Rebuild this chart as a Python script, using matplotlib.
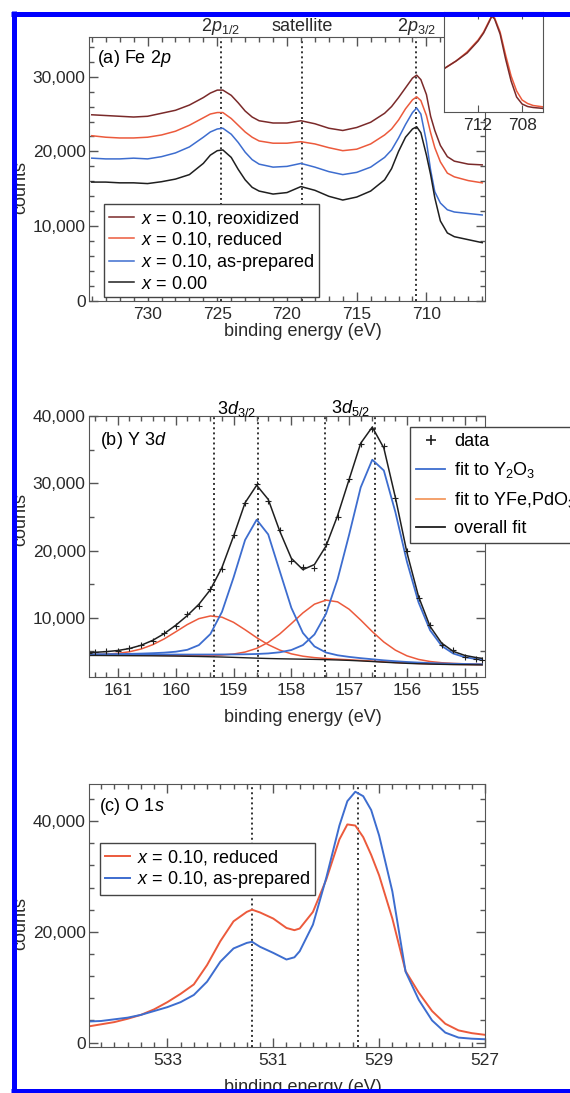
import matplotlib
matplotlib.use('Agg')
import matplotlib.pyplot as plt
import numpy as np
from matplotlib.ticker import MultipleLocator, FixedLocator, FuncFormatter
from matplotlib.lines import Line2D

plt.rcParams['font.family'] = ['Liberation Sans', 'DejaVu Sans']
plt.rcParams['mathtext.fontset'] = 'custom'
plt.rcParams['mathtext.rm'] = 'Liberation Sans'
plt.rcParams['mathtext.it'] = 'Liberation Sans:italic'
plt.rcParams['mathtext.bf'] = 'Liberation Sans:bold'

W, H = 570, 1093

# ---------------- (a) Fe 2p ----------------
fe_ev = [734, 733, 732, 731, 730, 729, 728, 727, 726, 725.5, 725, 724.6, 724, 723.5,
         723, 722.5, 722, 721, 720, 719, 718, 717, 716, 715, 714, 713, 712.5, 712,
         711.5, 711, 710.7, 710.4, 710, 709.7, 709.4, 709, 708.5, 708, 707, 706]
fe_x000 = [15900, 15900, 15800, 15800, 15700, 15950, 16300, 16900, 18400,
           19500, 20100, 20200, 19200, 17600, 16200, 15200, 14700,
           14300, 14500, 15300, 14800, 14000, 13500, 13900, 14700, 16200,
           17700, 20000, 21900, 23000, 23300, 22500, 19500,
           16900, 13800, 10700, 9100, 8600, 8200, 7800]
fe_asprep = [19100, 19000, 19000, 19100, 19000, 19300, 19800, 20600, 21900,
             22600, 23000, 23100, 22300, 21200, 19900, 18900, 18300,
             17900, 18000, 18400, 17900, 17300, 16900, 17200, 17900, 19200,
             20200, 21800, 23600, 25200, 25800, 25000, 21300,
             17500, 14600, 13100, 12200, 11900, 11700, 11500]
fe_reduced = [22100, 21900, 21800, 21800, 21900, 22200, 22700, 23500, 24500,
              25000, 25200, 25200, 24400, 23500, 22600, 21900, 21400,
              21100, 21100, 21300, 21000, 20500, 20100, 20300, 21000, 22200,
              23000, 24200, 25700, 26900, 27300, 26800, 24800,
              22500, 20500, 18600, 17100, 16600, 16100, 15800]
fe_reox = [24900, 24800, 24700, 24600, 24700, 25100, 25500, 26200, 27200,
           27800, 28200, 28200, 27500, 26500, 25400, 24600, 24100,
           23800, 23800, 24100, 23700, 23100, 22800, 23200, 23900, 25100,
           26000, 27200, 28500, 29800, 30200, 29600, 27600,
           24700, 22800, 20800, 19300, 18700, 18300, 18200]
fe_marks = [724.75, 718.9, 710.75]
fe_mark_labels = [r'2$p_{1/2}$', 'satellite', r'2$p_{3/2}$']

inset_ev = [715, 714, 713, 712, 711.5, 711, 710.75, 710.5, 710, 709.5, 709, 708.5,
            708, 707.5, 707, 706]
inset_reox = [0.44, 0.51, 0.59, 0.71, 0.79, 0.90, 0.96, 0.93, 0.78, 0.53, 0.31, 0.15,
              0.08, 0.055, 0.045, 0.035]
inset_reduced = [0.44, 0.51, 0.60, 0.72, 0.80, 0.91, 0.96, 0.94, 0.80, 0.57, 0.36, 0.21,
                 0.12, 0.085, 0.065, 0.05]

# ---------------- (b) Y 3d ----------------
yb_ev = [161.5, 161.4, 161.2, 161.0, 160.8, 160.6, 160.4, 160.2, 160.0, 159.8,
         159.6, 159.4, 159.2, 159.0, 158.8, 158.6, 158.4, 158.2, 158.0, 157.8,
         157.6, 157.4, 157.2, 157.0, 156.8, 156.6, 156.4, 156.2, 156.0, 155.8,
         155.6, 155.4, 155.2, 155.0, 154.8, 154.7]
yb_background = [4400, 4400, 4390, 4380, 4370, 4360, 4350, 4330, 4310, 4280,
                 4250, 4210, 4170, 4120, 4060, 4000, 3950, 3910, 3880, 3850,
                 3820, 3780, 3730, 3670, 3590, 3500, 3400, 3310, 3230, 3170,
                 3120, 3080, 3050, 3030, 3010, 3000]
yb_y2o3_32 = [160, 170, 196, 230, 270, 320, 390, 490, 650, 960,
              1690, 3380, 6710, 11860, 17510, 20580, 18450, 13020, 7610, 3900,
              1930, 1060, 700, 520, 410, 340, 280, 237, 203, 175,
              153, 134, 119, 106, 95, 90]
yb_y2o3_52 = [113, 117, 127, 138, 152, 167, 184, 205, 229, 256,
              290, 331, 381, 442, 519, 620, 755, 964, 1332, 2094,
              3702, 6822, 12000, 18700, 25800, 30000, 28500, 22400, 15100, 9140,
              5030, 2750, 1640, 1118, 847, 755]
yb_yfe_32 = [117, 137, 206, 338, 582, 998, 1642, 2530, 3603, 4713,
             5624, 6063, 5923, 5210, 4166, 3050, 2056, 1289, 764, 442,
             261, 166, 117, 90, 74, 64, 56, 49, 44, 39,
             35, 32, 29, 26, 24, 23]
yb_yfe_52 = [42, 44, 49, 54, 60, 68, 76, 87, 100, 119,
             149, 200, 300, 493, 849, 1456, 2395, 3691, 5257, 6876,
             8206, 8847, 8642, 7601, 6079, 4450, 3000, 1881, 1115, 645,
             381, 242, 171, 132, 109, 100]
yb_data = [4700, 4900, 5100, 5000, 5500, 6000, 6500, 7800, 8800, 10500,
           11800, 14300, 17300, 22300, 27000, 29900, 27400, 23100, 18500, 17600,
           17400, 20900, 25000, 30700, 35800, 38000, 35500, 27800, 20000, 13000,
           8900, 6000, 5200, 4200, 3900, 3800]
yb_marks = [159.33, 158.58, 157.41, 156.55]

# ---------------- (c) O 1s ----------------
o_ev = [534.5, 534.25, 534.0, 533.75, 533.5, 533.25, 533.0, 532.75, 532.5, 532.25,
        532.0, 531.75, 531.5, 531.4, 531.25, 531.0, 530.75, 530.6, 530.5, 530.25,
        530.0, 529.75, 529.6, 529.45, 529.3, 529.15, 529.0, 528.75, 528.5, 528.25,
        528.0, 527.75, 527.5, 527.25, 527.0]
o_reduced = [2900, 3300, 3700, 4300, 5000, 6000, 7300, 8800, 10500, 14000,
             18300, 21900, 23600, 24000, 23500, 22400, 20700, 20300, 20600, 23600,
             29400, 36700, 39400, 39200, 37100, 33900, 30200, 22400, 12900, 9000,
             5700, 3400, 2200, 1700, 1400]
o_asprep = [3800, 3900, 4200, 4500, 5000, 5700, 6400, 7300, 8600, 11000,
            14600, 17000, 18000, 18200, 17300, 16200, 15000, 15400, 16500, 21300,
            29700, 39200, 43600, 45300, 44500, 42000, 37400, 27300, 12800, 7700,
            4000, 1800, 900, 700, 600]
o_ticks = [533, 531, 529, 527]
o_marks = [531.4, 529.4]

BLACK = '#1f1f1f'
BLUE = '#3d6dcf'
RED = '#ec5a3c'
DARKRED = '#7a2a2a'
ORANGE = '#f39a60'
GRID = '#333333'

fig = plt.figure(figsize=(W / 100, H / 100), dpi=100)


def px_axes(left, top, right, bottom):
    return fig.add_axes([left / W, 1 - bottom / H, (right - left) / W, (bottom - top) / H])


def style(ax, xmaj, xmin, ymaj, ymin):
    if isinstance(xmaj, list):
        ax.xaxis.set_major_locator(FixedLocator(xmaj))
    else:
        ax.xaxis.set_major_locator(MultipleLocator(xmaj))
    ax.xaxis.set_minor_locator(MultipleLocator(xmin))
    ax.yaxis.set_major_locator(MultipleLocator(ymaj))
    ax.yaxis.set_minor_locator(MultipleLocator(ymin))
    ax.xaxis.set_major_formatter(FuncFormatter(lambda v, p: f'{v:g}'))
    ax.yaxis.set_major_formatter(FuncFormatter(lambda v, p: f'{int(round(v)):,}'))
    ax.tick_params(which='both', direction='in', top=True, right=True,
                   color='#555555', labelcolor='#2a2a2a', labelsize=12.5, width=1)
    ax.tick_params(which='major', length=6.5)
    ax.tick_params(which='minor', length=3.5)
    ax.tick_params(axis='x', pad=4)
    ax.tick_params(axis='y', pad=2.5)
    for s in ax.spines.values():
        s.set_color('#555555')


def marks(ax, xs):
    for x in xs:
        ax.axvline(x, color=GRID, lw=1.4, linestyle=(0, (1, 1.6)), zorder=1)


# ---- panel (a)
ax_a = px_axes(89, 37, 485, 301)
ax_a.plot(fe_ev, fe_reox, color=DARKRED, lw=1.1, label=r'$x$ = 0.10, reoxidized')
ax_a.plot(fe_ev, fe_reduced, color=RED, lw=1.1, label=r'$x$ = 0.10, reduced')
ax_a.plot(fe_ev, fe_asprep, color=BLUE, lw=1.1, label=r'$x$ = 0.10, as-prepared')
ax_a.plot(fe_ev, fe_x000, color=BLACK, lw=1.1, label=r'$x$ = 0.00')
marks(ax_a, fe_marks)
ax_a.set_xlim(734.2, 705.8)
ax_a.set_ylim(0, 35300)
style(ax_a, 5, 1, 10000, 2000)
ax_a.text(0.02, 0.917, r'(a) Fe 2$p$', transform=ax_a.transAxes, fontsize=13, va='center')
for x, lab in zip(fe_marks, fe_mark_labels):
    ax_a.text(x, 1.04, lab, transform=ax_a.get_xaxis_transform(), fontsize=13,
              ha='center', va='center', color='#2a2a2a')
la = ax_a.legend(loc='upper left', bbox_to_anchor=(104 / W, 1 - 204 / H),
                 bbox_transform=fig.transFigure, borderaxespad=0, fontsize=13,
                 frameon=True, fancybox=False, edgecolor='#444444', framealpha=1,
                 handlelength=1.4, handletextpad=0.4, labelspacing=0.15, borderpad=0.25)
la.get_frame().set_linewidth(1.0)

# inset
ax_in = px_axes(444, 12, 543, 112)
ax_in.plot(inset_ev, inset_reduced, color=RED, lw=1.1)
ax_in.plot(inset_ev, inset_reox, color=DARKRED, lw=1.1)
ax_in.set_xlim(715.1, 706.1)
ax_in.set_ylim(0, 1.0)
ax_in.set_xticks([712, 708])
ax_in.set_yticks([])
ax_in.tick_params(direction='in', top=True, length=5, color='#555555',
                  labelcolor='#2a2a2a', labelsize=12.5, pad=4)
for s in ax_in.spines.values():
    s.set_color('#555555')

# ---- panel (b)
ax_b = px_axes(89, 416, 485, 677)
bg = np.array(yb_background)
overall = bg + np.array(yb_y2o3_32) + np.array(yb_y2o3_52) + np.array(yb_yfe_32) + np.array(yb_yfe_52)
ax_b.plot(yb_ev, bg + np.array(yb_yfe_32), color=RED, lw=1.1)
ax_b.plot(yb_ev, bg + np.array(yb_yfe_52), color=RED, lw=1.1)
ax_b.plot(yb_ev, bg + np.array(yb_y2o3_32), color=BLUE, lw=1.3)
ax_b.plot(yb_ev, bg + np.array(yb_y2o3_52), color=BLUE, lw=1.3)
ax_b.plot(yb_ev, bg, color=BLACK, lw=1.0)
ax_b.plot(yb_ev, overall, color=BLACK, lw=1.1)
ax_b.plot(yb_ev, yb_data, ls='none', marker='+', ms=4, mew=0.8, color=BLACK)
marks(ax_b, yb_marks)
ax_b.set_xlim(161.5, 154.65)
ax_b.set_ylim(1200, 40000)
style(ax_b, 1, 0.2, 10000, 5000)
ax_b.text(0.028, 0.908, r'(b) Y 3$d$', transform=ax_b.transAxes, fontsize=13, va='center')
ax_b.text((yb_marks[0] + yb_marks[1]) / 2, 1.025, r'3$d_{3/2}$',
          transform=ax_b.get_xaxis_transform(), fontsize=13, ha='center', va='center')
ax_b.text((yb_marks[2] + yb_marks[3]) / 2, 1.03, r'3$d_{5/2}$',
          transform=ax_b.get_xaxis_transform(), fontsize=13, ha='center', va='center')
hb = [Line2D([], [], ls='none', marker='+', ms=7, mew=1.2, color=BLACK),
      Line2D([], [], color=BLUE, lw=1.3),
      Line2D([], [], color=ORANGE, lw=1.3),
      Line2D([], [], color=BLACK, lw=1.3)]
lb = ax_b.legend(hb, ['data', r'fit to Y$_2$O$_3$', r'fit to YFe,PdO$_3$', 'overall fit'],
                 loc='upper left', bbox_to_anchor=(410 / W, 1 - 427 / H),
                 bbox_transform=fig.transFigure, borderaxespad=0, fontsize=13,
                 frameon=True, fancybox=False, edgecolor='#444444', framealpha=1,
                 handlelength=1.6, handletextpad=0.5, labelspacing=0.55, borderpad=0.35)
lb.get_frame().set_linewidth(1.0)

# ---- panel (c)
ax_c = px_axes(89, 784, 485, 1047)
ax_c.plot(o_ev, o_reduced, color=RED, lw=1.4, label=r'$x$ = 0.10, reduced')
ax_c.plot(o_ev, o_asprep, color=BLUE, lw=1.4, label=r'$x$ = 0.10, as-prepared')
marks(ax_c, o_marks)
ax_c.set_xlim(534.48, 527.0)
ax_c.set_ylim(-800, 46700)
style(ax_c, o_ticks, 0.25, 20000, 4000)
ax_c.text(0.025, 0.913, r'(c) O 1$s$', transform=ax_c.transAxes, fontsize=13, va='center')
lc = ax_c.legend(loc='upper left', bbox_to_anchor=(100 / W, 1 - 843 / H),
                 bbox_transform=fig.transFigure, borderaxespad=0, fontsize=13,
                 frameon=True, fancybox=False, edgecolor='#444444', framealpha=1,
                 handlelength=1.4, handletextpad=0.4, labelspacing=0.15, borderpad=0.25)
lc.get_frame().set_linewidth(1.0)

# axis labels
for ycen in (188, 519, 924):
    fig.text(21 / W, 1 - ycen / H, 'counts', rotation=90, ha='center', va='center',
             fontsize=13, color='#2a2a2a')
for ycen in (332, 718, 1087):
    fig.text(303 / W, 1 - ycen / H, 'binding energy (eV)', ha='center', va='center',
             fontsize=13, color='#2a2a2a')

# blue page frame
lw_frame = 5 * 72 / 100
fig.add_artist(Line2D([13.5 / W, 13.5 / W], [0, 1 - 11 / H], transform=fig.transFigure,
                      color='#0000ff', lw=lw_frame, solid_capstyle='butt', zorder=10))
fig.add_artist(Line2D([11 / W, 1], [1 - 13.5 / H, 1 - 13.5 / H], transform=fig.transFigure,
                      color='#0000ff', lw=lw_frame, solid_capstyle='butt', zorder=10))
fig.add_artist(Line2D([11 / W, 1], [1 - 1090.5 / H, 1 - 1090.5 / H], transform=fig.transFigure,
                      color='#0000ff', lw=lw_frame, solid_capstyle='butt', zorder=10))

fig.savefig('out.png', dpi=100)
